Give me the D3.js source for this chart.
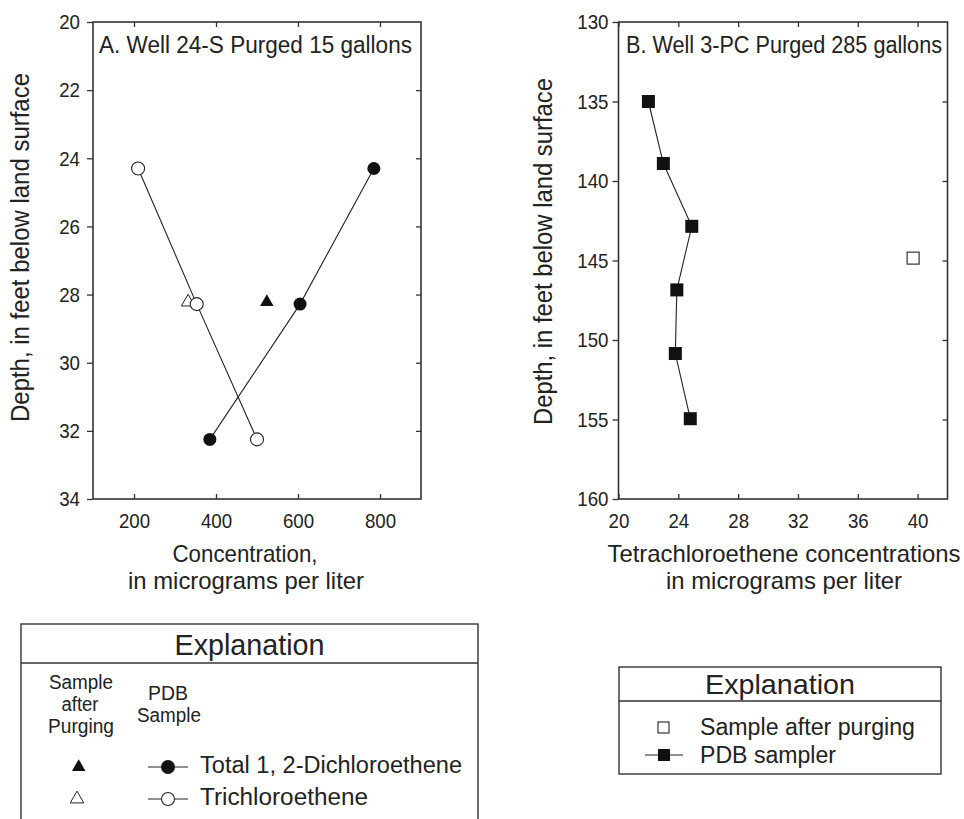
<!DOCTYPE html>
<html>
<head>
<meta charset="utf-8">
<script src="https://cdn.jsdelivr.net/npm/d3@7"></script>
<style>
  body { margin: 0; background: #fff; }
  svg text { font-family: "Liberation Sans", Arial, Helvetica, sans-serif; fill: #222; }
</style>
</head>
<body>
<script>
// Panel A - Well 24-S (depth in feet, concentration in ug/L)
const depthA = [24.3, 28.28, 32.25];
const dceA = [785, 605, 385];          // Total 1,2-Dichloroethene, PDB sampler
const tceA = [210, 353, 500];          // Trichloroethene, PDB sampler
const purgeDepthA = [28.22];
const dcePurgeA = [524];
const tcePurgeA = [332];
const xTicksA = [200, 400, 600, 800];
const yTicksA = [20, 22, 24, 26, 28, 30, 32, 34];

// Panel B - Well 3-PC, tetrachloroethene
const depthB = [135, 138.9, 142.85, 146.85, 150.85, 154.95];
const pceB = [22.0, 23.0, 24.9, 23.9, 23.8, 24.8];
const purgeDepthB = [144.85];
const pcePurgeB = [39.7];
const xTicksB = [20, 24, 28, 32, 36, 40];
const yTicksB = [130, 135, 140, 145, 150, 155, 160];

const svg = d3.select('body')
    .append('svg')
    .attr('width', 964)
    .attr('height', 819);

const plotTop = 22, plotBottom = 499;

const xA = d3.scaleLinear().domain([100, 900]).range([93, 421]);
const yA = d3.scaleLinear().domain([20, 34]).range([plotTop, plotBottom]);
const xB = d3.scaleLinear().domain([20, 42]).range([618.5, 947.5]);
const yB = d3.scaleLinear().domain([130, 160]).range([plotTop, plotBottom]);

function frame(x, y, xTicks, yTicks, leftPad) {
    const x0 = x.range()[0], x1 = x.range()[1];
    const g = svg.append('g');
    // bottom, labelled, ticks pointing in
    g.append('g')
        .attr('transform', `translate(0,${plotBottom})`)
        .call(d3.axisBottom(x).tickValues(xTicks).tickSizeInner(-5).tickSizeOuter(0).tickPadding(14));
    g.append('g')
        .attr('transform', `translate(0,${plotTop})`)
        .call(d3.axisTop(x).tickValues(xTicks).tickSizeInner(-5).tickSizeOuter(0).tickFormat(''));
    g.append('g')
        .attr('transform', `translate(${x0},0)`)
        .call(d3.axisLeft(y).tickValues(yTicks).tickSizeInner(6).tickSizeOuter(0).tickPadding(leftPad));
    g.append('g')
        .attr('transform', `translate(${x1},0)`)
        .call(d3.axisRight(y).tickValues(yTicks.slice(1, -1)).tickSizeInner(-5).tickSizeOuter(0).tickFormat(''));
    g.selectAll('.domain').remove();
    g.selectAll('.tick line').attr('stroke', '#333').attr('stroke-width', 1.3);
    // the figure uses a slightly condensed face
    g.selectAll('.tick text')
        .attr('font-size', 21).attr('fill', '#222')
        .attr('textLength', function () { return this.textContent.length * 10.4; })
        .attr('lengthAdjust', 'spacingAndGlyphs');
    g.append('rect')
        .attr('x', x0).attr('y', plotTop)
        .attr('width', x1 - x0).attr('height', plotBottom - plotTop)
        .attr('fill', 'none').attr('stroke', '#333').attr('stroke-width', 1.6);
}

frame(xA, yA, xTicksA, yTicksA, 7);
frame(xB, yB, xTicksB, yTicksB, 4);

// ---- Panel A marks
const lineA = (vals) => d3.line().x((d, i) => xA(vals[i])).y(d => yA(d));
svg.append('path').datum(depthA).attr('d', lineA(tceA))
    .attr('fill', 'none').attr('stroke', '#222').attr('stroke-width', 1.1);
svg.append('path').datum(depthA).attr('d', lineA(dceA))
    .attr('fill', 'none').attr('stroke', '#222').attr('stroke-width', 1.1);

const tri = d3.symbol().type(d3.symbolTriangle).size(80);
svg.selectAll('.tceP').data(purgeDepthA).join('path')
    .attr('transform', (d, i) => `translate(${xA(tcePurgeA[i])},${yA(d)})`)
    .attr('d', tri).attr('fill', '#fff').attr('stroke', '#222').attr('stroke-width', 1);
svg.selectAll('.dceP').data(purgeDepthA).join('path')
    .attr('transform', (d, i) => `translate(${xA(dcePurgeA[i])},${yA(d)})`)
    .attr('d', tri).attr('fill', '#111');

svg.selectAll('.tce').data(depthA).join('circle')
    .attr('cx', (d, i) => xA(tceA[i])).attr('cy', d => yA(d)).attr('r', 6.5)
    .attr('fill', '#fff').attr('stroke', '#222').attr('stroke-width', 1.1);
svg.selectAll('.dce').data(depthA).join('circle')
    .attr('cx', (d, i) => xA(dceA[i])).attr('cy', d => yA(d)).attr('r', 6.5)
    .attr('fill', '#111');

// ---- Panel B marks
svg.append('path').datum(depthB)
    .attr('d', d3.line().x((d, i) => xB(pceB[i])).y(d => yB(d)))
    .attr('fill', 'none').attr('stroke', '#222').attr('stroke-width', 1.1);
svg.selectAll('.pce').data(depthB).join('rect')
    .attr('x', (d, i) => xB(pceB[i]) - 6.5).attr('y', d => yB(d) - 6.5)
    .attr('width', 13).attr('height', 13).attr('fill', '#111');
svg.selectAll('.pceP').data(purgeDepthB).join('rect')
    .attr('x', (d, i) => xB(pcePurgeB[i]) - 6).attr('y', d => yB(d) - 6)
    .attr('width', 12).attr('height', 12)
    .attr('fill', '#fff').attr('stroke', '#222').attr('stroke-width', 1.1);

// ---- titles and axis labels
function label(x, y, txt, size, len, anchor) {
    const t = svg.append('text').attr('x', x).attr('y', y)
        .attr('font-size', size).attr('text-anchor', anchor || 'middle').text(txt);
    if (len) t.attr('textLength', len).attr('lengthAdjust', 'spacingAndGlyphs');
    return t;
}
label(99, 53, 'A. Well 24-S Purged 15 gallons', 23, 313, 'start');
label(626, 53, 'B. Well 3-PC Purged 285 gallons', 23, 316, 'start');

label(245, 562, 'Concentration,', 24, 145);
label(246, 589, 'in micrograms per liter', 24, 236);
label(784, 562, 'Tetrachloroethene concentrations', 24, 353);
label(784, 589, 'in micrograms per liter', 24, 236);

label(0, 0, 'Depth, in feet below land surface', 25, 349)
    .attr('transform', 'translate(29,247.5) rotate(-90)');
label(0, 0, 'Depth, in feet below land surface', 25, 347)
    .attr('transform', 'translate(552,251.5) rotate(-90)');

// ---- legend A
const lgA = { x0: 21, x1: 478, y0: 624, y1: 663 };
svg.append('rect').attr('x', lgA.x0).attr('y', lgA.y0)
    .attr('width', lgA.x1 - lgA.x0).attr('height', 830 - lgA.y0)
    .attr('fill', 'none').attr('stroke', '#333').attr('stroke-width', 1.4);
svg.append('line').attr('x1', lgA.x0).attr('x2', lgA.x1).attr('y1', lgA.y1).attr('y2', lgA.y1)
    .attr('stroke', '#333').attr('stroke-width', 1.4);
label(249.5, 655, 'Explanation', 29, 150);
label(81, 689, 'Sample', 20, 64);
label(80, 711, 'after', 20, 37);
label(81, 733, 'Purging', 20, 66);
label(168, 700, 'PDB', 20, 40);
label(169, 721.5, 'Sample', 20, 64);

const legRows = [767, 799];
svg.append('path').attr('transform', `translate(78.7,${legRows[0]})`).attr('d', tri).attr('fill', '#111');
svg.append('path').attr('transform', `translate(77,${legRows[1]})`).attr('d', tri)
    .attr('fill', '#fff').attr('stroke', '#222').attr('stroke-width', 1);
legRows.forEach((y, i) => {
    svg.append('line').attr('x1', 148).attr('x2', 188).attr('y1', y).attr('y2', y)
        .attr('stroke', '#222').attr('stroke-width', 1.1);
    svg.append('circle').attr('cx', 168).attr('cy', y).attr('r', 6.5)
        .attr('fill', i === 0 ? '#111' : '#fff').attr('stroke', '#222').attr('stroke-width', 1.1);
});
label(200, 773, 'Total 1, 2-Dichloroethene', 23, 262, 'start');
label(200, 805, 'Trichloroethene', 23, 168, 'start');

// ---- legend B
const lgB = { x0: 619, x1: 941, y0: 667, y1: 701, y2: 774 };
svg.append('rect').attr('x', lgB.x0).attr('y', lgB.y0)
    .attr('width', lgB.x1 - lgB.x0).attr('height', lgB.y2 - lgB.y0)
    .attr('fill', 'none').attr('stroke', '#333').attr('stroke-width', 1.4);
svg.append('line').attr('x1', lgB.x0).attr('x2', lgB.x1).attr('y1', lgB.y1).attr('y2', lgB.y1)
    .attr('stroke', '#333').attr('stroke-width', 1.4);
label(780, 694, 'Explanation', 28, 150);
svg.append('rect').attr('x', 658).attr('y', 722).attr('width', 11).attr('height', 11)
    .attr('fill', '#fff').attr('stroke', '#222').attr('stroke-width', 1.1);
svg.append('line').attr('x1', 645).attr('x2', 683).attr('y1', 755).attr('y2', 755)
    .attr('stroke', '#222').attr('stroke-width', 1.1);
svg.append('rect').attr('x', 658).attr('y', 749).attr('width', 12).attr('height', 12).attr('fill', '#111');
label(700, 735, 'Sample after purging', 23, 215, 'start');
label(700, 763, 'PDB sampler', 23, 136, 'start');
</script>
</body>
</html>
